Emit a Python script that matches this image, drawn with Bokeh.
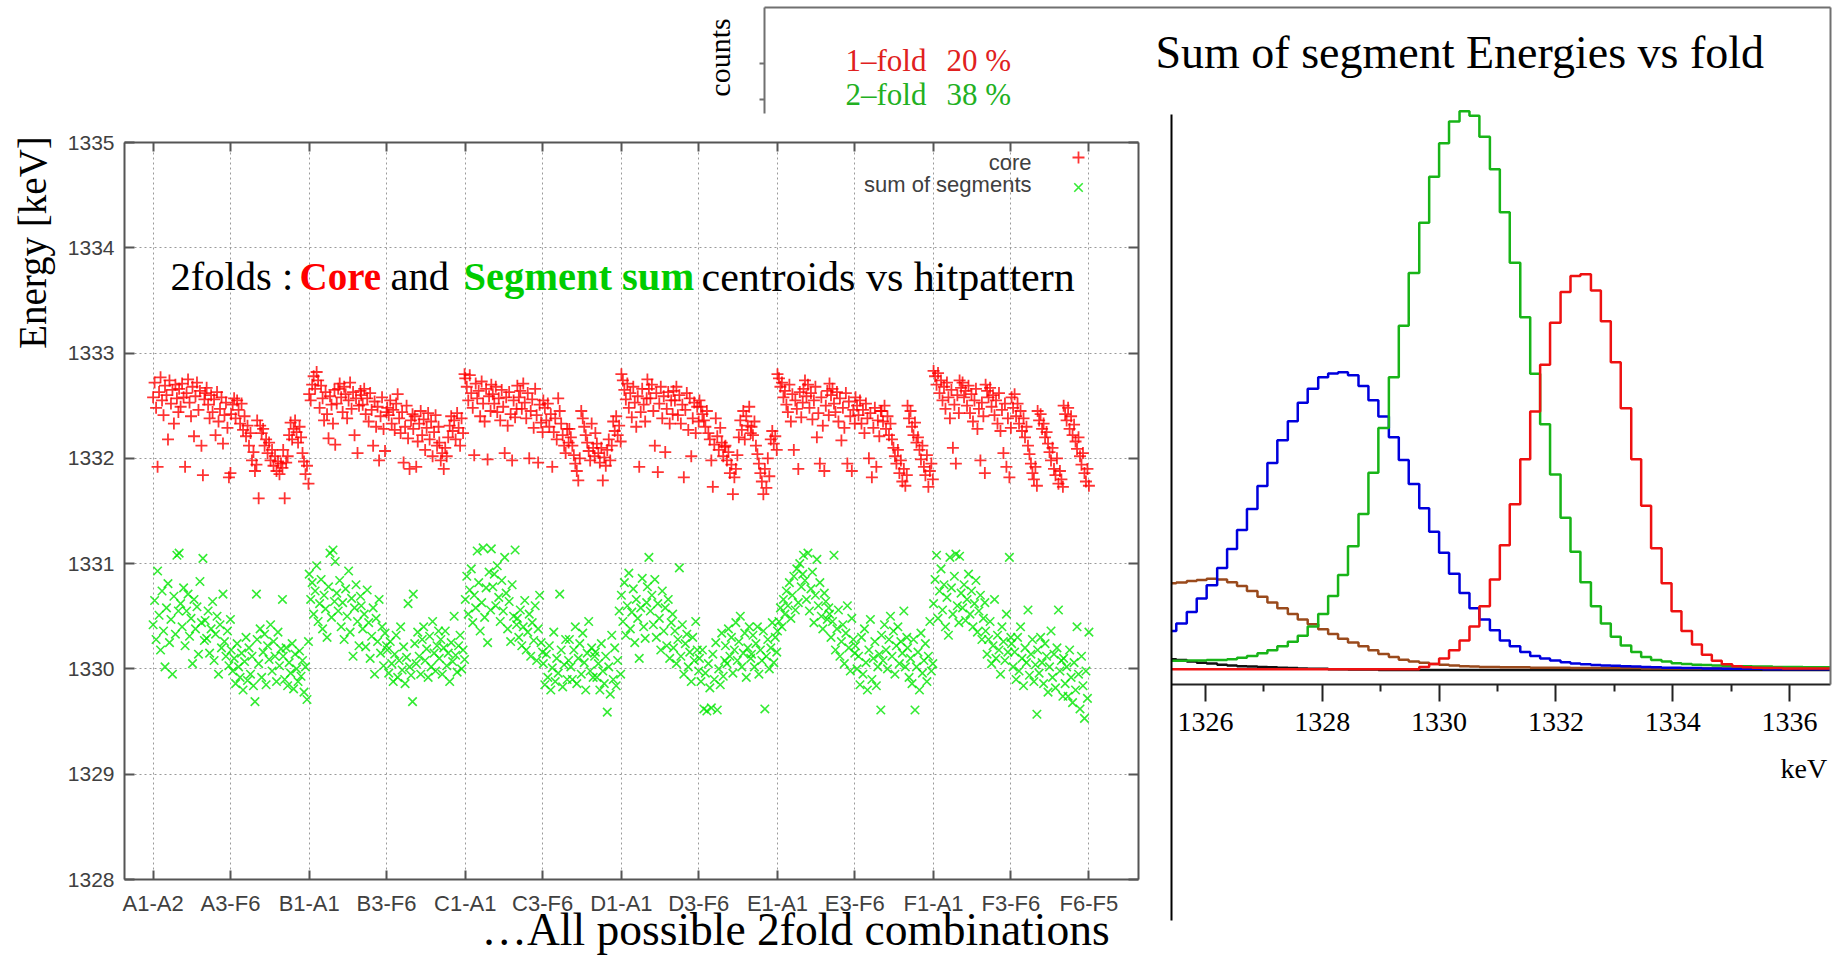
import math
from bokeh.plotting import figure
from bokeh.models import (Range1d, LinearAxis, FixedTicker, Grid, Label, Legend,
                          LegendItem, ColumnDataSource)
from bokeh.embed import file_html
from bokeh.resources import INLINE
from bokeh.core.properties import value

# ------------------------------------------------------------------ data
# left panel: 2-fold centroids (keV) vs hit pattern (every 2nd partner of each segment)
x_tick_pos = [0, 104, 210, 314, 420, 524, 630, 734, 840, 944, 1050, 1154, 1259]
x_tick_labels = ["A1-A2", "A3-F6", "B1-A1", "B3-F6", "C1-A1", "C3-F6", "D1-A1",
                 "D3-F6", "E1-A1", "E3-F6", "F1-A1", "F3-F6", "F6-F5"]
y_ticks = [1328, 1329, 1330, 1331, 1332, 1333, 1334, 1335]

core_A = [1332.58, 1332.72, 1332.48, 1331.92, 1332.63, 1332.77, 1332.55, 1332.41, 1332.69, 1332.60, 1332.18, 1332.74, 1332.52, 1332.65, 1332.33, 1332.70, 1332.57, 1332.44,
          1332.66, 1332.49, 1332.71, 1332.58, 1331.92, 1332.62, 1332.75, 1332.53, 1332.40, 1332.68, 1332.21, 1332.59, 1332.72, 1332.46, 1332.64, 1332.12, 1331.84, 1332.56,
          1332.62, 1332.67, 1332.51, 1332.38, 1332.60, 1332.44, 1332.56, 1332.22, 1332.63, 1332.35, 1332.47, 1332.58, 1332.14, 1332.41, 1332.53, 1332.29, 1331.82, 1331.86,
          1332.42, 1332.51, 1332.57, 1332.38, 1332.55, 1332.46, 1332.33, 1332.52, 1332.27, 1332.40, 1332.21, 1332.31, 1332.12, 1332.24, 1331.98, 1332.06, 1331.88, 1331.94,
          1332.36, 1331.62, 1332.31, 1332.24, 1332.28, 1332.12, 1332.18, 1332.05, 1332.15, 1331.98, 1332.08, 1331.93, 1332.02, 1331.88, 1331.97, 1331.85, 1331.95, 1331.91,
          1332.08, 1331.62, 1331.96, 1332.02, 1332.22, 1332.34, 1332.18, 1332.28, 1332.36, 1332.25, 1332.15, 1332.30, 1332.20, 1332.05, 1331.97, 1331.85, 1331.93, 1331.76]
core_B = [1332.61, 1332.55, 1332.70, 1332.78, 1332.66, 1332.82, 1332.74, 1332.48, 1332.69, 1332.57, 1332.36, 1332.63, 1332.42, 1332.19, 1332.59, 1332.51, 1332.33, 1332.65,
          1332.13, 1332.52, 1332.66, 1332.71, 1332.58, 1332.44, 1332.68, 1332.61, 1332.38, 1332.55, 1332.72, 1332.47, 1332.63, 1332.22, 1332.57, 1332.05, 1332.50, 1332.64,
          1332.60, 1332.51, 1332.66, 1332.42, 1332.57, 1332.35, 1332.62, 1332.46, 1332.12, 1332.54, 1332.30, 1332.49, 1331.98, 1332.40, 1332.58, 1332.28, 1332.07, 1332.44,
          1332.48, 1332.41, 1332.55, 1332.33, 1332.46, 1332.27, 1332.52, 1332.61, 1332.38, 1332.24, 1332.44, 1331.96, 1332.30, 1332.50, 1332.19, 1331.90, 1332.36, 1332.42,
          1332.28, 1332.40, 1331.92, 1332.16, 1332.33, 1332.45, 1332.22, 1332.37, 1332.08, 1332.29, 1332.43, 1332.18, 1332.35, 1332.02, 1332.25, 1332.41, 1332.12, 1332.30,
          1332.15, 1331.98, 1332.05, 1331.90, 1332.10, 1332.02, 1332.20, 1332.31, 1332.40, 1332.26, 1332.36, 1332.18, 1332.43, 1332.29, 1332.12, 1332.38, 1332.24, 1332.80]
core_C = [1332.76, 1332.68, 1332.55, 1332.79, 1332.62, 1332.48, 1332.03, 1332.71, 1332.57, 1332.64, 1332.40, 1332.73, 1332.52, 1332.35, 1332.66, 1331.99, 1332.59, 1332.45,
          1332.70, 1332.61, 1332.52, 1332.68, 1332.44, 1332.57, 1332.36, 1332.65, 1332.49, 1332.05, 1332.58, 1332.31, 1332.63, 1332.42, 1331.98, 1332.55, 1332.39, 1332.47,
          1332.69, 1332.58, 1332.64, 1332.47, 1332.71, 1332.53, 1332.38, 1332.62, 1332.00, 1332.45, 1332.56, 1332.29, 1332.66, 1332.41, 1331.96, 1332.51, 1332.34, 1332.25,
          1332.55, 1332.48, 1332.36, 1332.52, 1332.30, 1332.42, 1331.92, 1332.25, 1332.38, 1332.18, 1332.57, 1332.45, 1332.33, 1332.22, 1332.12, 1332.05, 1332.28, 1332.15,
          1332.28, 1332.20, 1332.12, 1332.03, 1331.95, 1331.88, 1331.79, 1332.00, 1332.45, 1332.38, 1332.30, 1332.22, 1332.15, 1332.07, 1331.98, 1332.33, 1332.10, 1332.02,
          1332.24, 1332.14, 1332.05, 1331.96, 1332.10, 1331.79, 1332.01, 1331.93, 1332.08, 1332.18, 1331.98, 1332.12, 1332.35, 1332.26, 1332.40, 1332.22, 1332.31, 1332.16]
core_D = [1332.80, 1332.74, 1332.65, 1332.56, 1332.71, 1332.48, 1332.62, 1332.39, 1332.68, 1332.53, 1332.30, 1332.59, 1331.92, 1332.44, 1332.66, 1332.51, 1332.35, 1332.57,
          1332.75, 1332.66, 1332.57, 1332.70, 1332.45, 1332.12, 1332.62, 1331.87, 1332.52, 1332.68, 1332.38, 1332.59, 1332.06, 1332.47, 1332.63, 1332.33, 1332.55, 1332.42,
          1332.64, 1332.55, 1332.68, 1332.41, 1332.60, 1332.33, 1332.51, 1331.82, 1332.46, 1332.62, 1332.27, 1332.57, 1332.02, 1332.38, 1332.53, 1332.24, 1332.49, 1332.35,
          1332.55, 1332.49, 1332.42, 1332.36, 1332.30, 1332.45, 1332.24, 1332.18, 1331.98, 1331.73, 1332.13, 1332.38, 1332.21, 1332.08, 1332.29, 1332.15, 1332.02, 1332.11,
          1332.12, 1331.98, 1332.06, 1331.86, 1331.94, 1331.66, 1331.82, 1331.90, 1332.03, 1332.20, 1332.36, 1332.27, 1332.45, 1332.18, 1332.40, 1332.31, 1332.49, 1332.24,
          1332.30, 1332.22, 1332.35, 1332.12, 1332.04, 1331.95, 1331.86, 1331.78, 1331.66, 1331.90, 1331.72, 1332.00, 1331.83, 1332.18, 1332.26, 1332.14, 1332.21, 1332.08]
core_E = [1332.80, 1332.76, 1332.68, 1332.72, 1332.58, 1332.64, 1332.51, 1332.44, 1332.70, 1332.35, 1332.61, 1332.08, 1332.55, 1332.47, 1331.90, 1332.63, 1332.39, 1332.53,
          1332.66, 1332.74, 1332.59, 1332.70, 1332.48, 1332.62, 1332.37, 1332.55, 1332.68, 1332.20, 1332.43, 1331.95, 1332.58, 1332.31, 1331.88, 1332.50, 1332.64, 1332.41,
          1332.71, 1332.60, 1332.66, 1332.52, 1332.44, 1332.63, 1332.35, 1332.57, 1332.17, 1332.48, 1332.29, 1332.62, 1331.95, 1332.54, 1332.40, 1331.88, 1332.46, 1332.33,
          1332.58, 1332.50, 1332.41, 1332.55, 1332.33, 1332.46, 1332.24, 1332.52, 1332.38, 1332.00, 1332.43, 1331.82, 1332.29, 1332.48, 1331.92, 1332.36, 1332.21, 1332.45,
          1332.45, 1332.35, 1332.50, 1332.28, 1332.40, 1332.22, 1332.33, 1332.18, 1332.10, 1332.02, 1331.95, 1332.08, 1331.86, 1331.98, 1331.78, 1331.90, 1331.74, 1331.84,
          1332.50, 1332.38, 1332.45, 1332.30, 1332.22, 1332.34, 1332.15, 1332.20, 1332.08, 1331.99, 1332.12, 1331.92, 1331.84, 1332.03, 1331.73, 1331.88, 1331.95, 1331.80]
core_F = [1332.83, 1332.78, 1332.70, 1332.81, 1332.62, 1332.74, 1332.55, 1332.68, 1332.47, 1332.72, 1332.58, 1332.38, 1332.65, 1332.10, 1332.51, 1331.95, 1332.60, 1332.43,
          1332.74, 1332.67, 1332.72, 1332.58, 1332.64, 1332.50, 1332.69, 1332.43, 1332.61, 1332.35, 1332.55, 1332.66, 1332.28, 1332.47, 1331.98, 1332.53, 1332.40, 1331.86,
          1332.70, 1332.64, 1332.58, 1332.67, 1332.49, 1332.60, 1332.41, 1332.55, 1332.33, 1332.62, 1332.26, 1332.46, 1332.05, 1332.52, 1331.92, 1332.38, 1331.82, 1332.29,
          1332.58, 1332.48, 1332.61, 1332.40, 1332.52, 1332.33, 1332.45, 1332.26, 1332.38, 1332.20, 1332.30, 1332.12, 1332.04, 1331.95, 1331.86, 1331.80, 1331.92, 1331.74,
          1332.45, 1332.36, 1332.42, 1332.28, 1332.33, 1332.20, 1332.25, 1332.14, 1332.06, 1331.98, 1332.10, 1331.90, 1331.84, 1332.00, 1331.76, 1331.88, 1331.80, 1331.73,
          1332.50, 1332.42, 1332.36, 1332.48, 1332.28, 1332.40, 1332.22, 1332.32, 1332.16, 1332.09, 1332.20, 1332.02, 1331.94, 1332.05, 1331.86, 1331.78, 1331.90, 1331.74]

sum_A = [1330.42, 1330.65, 1330.28, 1330.93, 1330.51, 1330.18, 1330.74, 1330.36, 1330.02, 1330.58, 1330.81, 1330.25, 1330.47, 1329.95, 1330.69, 1330.33, 1331.08, 1330.55,
         1331.10, 1330.62, 1330.40, 1330.77, 1330.22, 1330.55, 1330.71, 1330.31, 1330.48, 1330.05, 1330.66, 1330.38, 1330.59, 1330.14, 1330.83, 1330.44, 1331.05, 1330.27,
         1330.46, 1330.29, 1330.55, 1330.15, 1330.38, 1330.64, 1330.08, 1330.33, 1330.50, 1329.95, 1330.42, 1330.20, 1330.71, 1330.26, 1330.12, 1330.36, 1330.03, 1330.47,
         1330.18, 1329.98, 1330.10, 1329.86, 1330.24, 1330.02, 1329.92, 1330.15, 1329.80, 1330.07, 1330.30, 1329.89, 1330.20, 1329.95, 1330.12, 1329.84, 1329.69, 1330.71,
         1330.28, 1330.05, 1330.38, 1329.92, 1330.16, 1330.33, 1329.85, 1330.22, 1330.09, 1330.42, 1329.98, 1330.26, 1330.12, 1329.88, 1330.35, 1330.03, 1330.19, 1330.66,
         1330.12, 1329.90, 1330.20, 1329.84, 1330.06, 1329.96, 1330.24, 1329.81, 1330.14, 1330.00, 1329.88, 1330.17, 1329.93, 1330.08, 1329.78, 1330.02, 1329.71, 1330.26]
sum_B = [1330.90, 1330.66, 1330.82, 1330.52, 1330.74, 1330.98, 1330.45, 1330.62, 1330.85, 1330.38, 1330.70, 1330.57, 1330.30, 1330.78, 1331.10, 1330.49, 1331.13, 1330.64,
         1331.02, 1330.72, 1330.55, 1330.84, 1330.40, 1330.63, 1330.28, 1330.76, 1330.50, 1330.93, 1330.35, 1330.67, 1330.12, 1330.58, 1330.80, 1330.45, 1330.22, 1330.69,
         1330.60, 1330.38, 1330.52, 1330.21, 1330.75, 1330.44, 1330.10, 1330.31, 1330.58, 1329.95, 1330.48, 1330.26, 1330.66, 1330.15, 1330.40, 1330.03, 1330.34, 1330.22,
         1330.18, 1329.96, 1330.26, 1330.05, 1329.88, 1330.14, 1330.32, 1329.92, 1330.08, 1330.40, 1329.99, 1330.21, 1329.86, 1330.11, 1330.62, 1330.02, 1329.94, 1329.69,
         1330.71, 1330.24, 1330.05, 1330.35, 1330.12, 1329.95, 1330.28, 1330.40, 1330.08, 1330.19, 1329.92, 1330.31, 1330.02, 1330.45, 1330.15, 1329.98, 1330.22, 1330.36,
         1330.10, 1330.28, 1329.95, 1330.20, 1330.36, 1330.03, 1330.15, 1329.88, 1330.25, 1330.07, 1330.50, 1330.13, 1329.97, 1330.22, 1330.32, 1330.00, 1330.18, 1330.09]
sum_C = [1330.66, 1330.88, 1330.52, 1330.75, 1330.95, 1330.44, 1330.70, 1330.58, 1331.12, 1330.82, 1330.36, 1330.63, 1331.15, 1330.49, 1330.77, 1330.25, 1330.92, 1330.56,
         1331.14, 1330.78, 1330.90, 1330.60, 1330.98, 1330.68, 1330.45, 1330.84, 1330.55, 1331.06, 1330.72, 1330.38, 1330.64, 1330.26, 1330.80, 1330.50, 1331.13, 1330.42,
         1330.48, 1330.30, 1330.56, 1330.22, 1330.40, 1330.65, 1330.18, 1330.35, 1330.52, 1330.12, 1330.44, 1330.27, 1330.60, 1330.08, 1330.38, 1330.70, 1330.25, 1330.16,
         1330.05, 1329.85, 1330.14, 1329.92, 1330.22, 1329.80, 1330.01, 1330.35, 1329.88, 1330.10, 1329.96, 1330.71, 1330.18, 1329.83, 1330.04, 1330.28, 1329.90, 1330.08,
         1330.28, 1330.02, 1329.90, 1330.18, 1330.40, 1329.86, 1330.10, 1330.24, 1329.95, 1330.34, 1330.06, 1329.80, 1330.15, 1330.45, 1329.98, 1330.20, 1329.92, 1330.12,
         1330.16, 1329.92, 1330.05, 1329.80, 1330.24, 1329.98, 1329.86, 1330.12, 1329.59, 1330.02, 1329.76, 1330.32, 1329.90, 1330.20, 1329.84, 1330.08, 1330.55, 1329.95]
sum_D = [1330.70, 1330.45, 1330.82, 1330.32, 1330.60, 1330.91, 1330.38, 1330.54, 1330.76, 1330.25, 1330.66, 1330.48, 1330.10, 1330.58, 1330.86, 1330.40, 1330.29, 1330.63,
         1330.78, 1331.06, 1330.55, 1330.70, 1330.42, 1330.85, 1330.30, 1330.62, 1330.48, 1330.18, 1330.74, 1330.36, 1330.58, 1330.22, 1330.66, 1330.10, 1330.44, 1330.52,
         1330.20, 1330.36, 1330.05, 1330.28, 1330.96, 1330.12, 1330.42, 1329.95, 1330.24, 1330.33, 1330.02, 1330.16, 1329.88, 1330.30, 1330.08, 1330.45, 1330.18, 1329.98,
         1330.10, 1329.88, 1330.18, 1329.62, 1329.96, 1329.60, 1330.05, 1329.82, 1329.63, 1330.14, 1329.90, 1330.25, 1329.61, 1330.00, 1329.85, 1330.34, 1329.93, 1330.08,
         1330.22, 1330.05, 1330.38, 1330.12, 1330.30, 1329.96, 1330.18, 1330.44, 1330.08, 1330.26, 1330.50, 1330.02, 1330.15, 1330.34, 1329.92, 1330.20, 1330.40, 1330.10,
         1330.14, 1330.32, 1330.02, 1330.24, 1330.40, 1329.95, 1330.18, 1330.08, 1330.36, 1329.62, 1330.12, 1330.28, 1330.00, 1330.20, 1330.44, 1330.06, 1330.30, 1330.16]
sum_E = [1330.36, 1330.45, 1330.58, 1330.40, 1330.66, 1330.52, 1330.74, 1330.60, 1330.82, 1330.48, 1330.70, 1330.88, 1330.56, 1330.95, 1330.63, 1331.00, 1330.78, 1330.90,
         1331.08, 1330.84, 1330.66, 1331.10, 1330.55, 1330.76, 1330.92, 1330.44, 1330.70, 1331.04, 1330.60, 1330.82, 1330.50, 1330.38, 1330.72, 1330.64, 1330.47, 1330.58,
         1330.52, 1330.30, 1330.45, 1331.08, 1330.18, 1330.38, 1330.56, 1330.12, 1330.26, 1330.42, 1330.05, 1330.34, 1330.60, 1330.20, 1329.98, 1330.48, 1330.28, 1330.15,
         1330.22, 1330.00, 1330.12, 1329.85, 1330.30, 1329.95, 1330.38, 1330.06, 1329.80, 1330.18, 1330.47, 1329.90, 1330.10, 1330.26, 1329.84, 1330.02, 1330.14, 1329.61,
         1330.32, 1330.08, 1330.42, 1330.18, 1330.00, 1330.28, 1330.50, 1330.12, 1330.36, 1329.95, 1330.22, 1330.40, 1330.05, 1330.26, 1330.15, 1330.55, 1330.02, 1330.30,
         1330.20, 1329.92, 1330.10, 1329.86, 1330.28, 1329.61, 1330.02, 1330.16, 1329.80, 1330.34, 1329.96, 1330.08, 1330.24, 1329.88, 1330.12, 1330.45, 1329.98, 1330.05]
sum_F = [1330.62, 1330.85, 1331.08, 1330.48, 1330.74, 1330.95, 1330.56, 1330.80, 1330.40, 1330.68, 1330.32, 1331.06, 1330.77, 1330.52, 1330.88, 1331.09, 1330.60, 1330.44,
         1331.07, 1330.72, 1330.58, 1330.80, 1330.46, 1330.66, 1330.90, 1330.52, 1330.74, 1330.40, 1330.62, 1330.84, 1330.35, 1330.55, 1330.70, 1330.28, 1330.48, 1330.63,
         1330.36, 1330.14, 1330.28, 1330.45, 1330.05, 1330.22, 1330.66, 1330.10, 1330.32, 1330.18, 1329.95, 1330.40, 1330.26, 1330.08, 1330.52, 1330.16, 1331.06, 1330.30,
         1330.24, 1330.02, 1330.16, 1329.90, 1330.30, 1329.98, 1330.40, 1330.10, 1329.84, 1330.20, 1330.06, 1330.56, 1329.94, 1330.14, 1330.28, 1329.88, 1330.04, 1329.57,
         1330.18, 1329.96, 1330.30, 1330.06, 1329.86, 1330.24, 1330.12, 1329.78, 1330.02, 1330.36, 1329.92, 1330.14, 1329.82, 1330.20, 1330.56, 1329.98, 1330.08, 1329.74,
         1330.10, 1329.86, 1330.02, 1329.74, 1330.18, 1329.92, 1329.68, 1330.06, 1329.80, 1330.40, 1329.95, 1329.62, 1330.12, 1329.84, 1329.53, 1329.98, 1329.72, 1330.35]

# right panel: sum of segment energies, one histogram per fold (bin edges in keV, counts a.u.)
hist_edges = [1325.42, 1325.50, 1325.68, 1325.85, 1326.02, 1326.20, 1326.37, 1326.54, 1326.71, 1326.89,
              1327.06, 1327.23, 1327.41, 1327.58, 1327.75, 1327.93, 1328.10, 1328.27, 1328.44, 1328.62,
              1328.79, 1328.96, 1329.14, 1329.31, 1329.48, 1329.66, 1329.83, 1330.00, 1330.17, 1330.35,
              1330.52, 1330.69, 1330.87, 1331.04, 1331.21, 1331.39, 1331.56, 1331.73, 1331.90, 1332.08,
              1332.25, 1332.42, 1332.60, 1332.77, 1332.94, 1333.11, 1333.29, 1333.46, 1333.63, 1333.81,
              1333.98, 1334.15, 1334.33, 1334.50, 1334.67, 1334.84, 1335.02, 1335.19, 1335.36, 1335.54,
              1335.71, 1335.88, 1336.06, 1336.23, 1336.40, 1336.57, 1336.70]
fold1_red = [2, 2, 2, 2, 2, 2, 2, 2, 2, 2, 2, 2, 2, 2, 2, 2, 2, 2, 2, 2, 2, 2, 2, 2, 2,
             8, 16, 30, 52, 77, 114, 167, 237, 327, 434, 552, 677, 800, 910, 990, 1032, 1037,
             994, 914, 806, 686, 552, 430, 319, 227, 154, 102, 67, 40, 24, 15, 10, 7, 6, 5, 5,
             4, 4, 4, 4, 4]
fold2_green = [24, 24, 25, 25, 26, 26, 28, 32, 37, 44, 52, 62, 74, 90, 114, 147, 194, 249, 324,
               409, 517, 634, 767, 902, 1040, 1172, 1292, 1380, 1437, 1464, 1452, 1397, 1312,
               1199, 1067, 924, 776, 644, 512, 399, 310, 230, 167, 122, 87, 64, 47, 34, 26, 22,
               18, 16, 14, 13, 12, 11, 10, 10, 9, 9, 8, 8, 8, 7, 7, 7]
fold3_blue = [102, 122, 152, 187, 222, 267, 317, 367, 422, 482, 542, 602, 652, 700, 737, 767,
              777, 780, 772, 744, 707, 664, 610, 550, 487, 424, 362, 307, 252, 202, 162, 132,
              104, 77, 62, 47, 37, 30, 25, 20, 17, 15, 13, 12, 11, 10, 9, 8, 7, 6, 6, 5, 5, 4,
              4, 3, 3, 3, 3, 2, 2, 2, 2, 2, 2, 2]
fold4_brown = [227, 229, 233, 236, 239, 237, 230, 220, 207, 192, 177, 162, 147, 132, 120, 107,
               94, 82, 72, 62, 52, 42, 34, 27, 22, 19, 16, 14, 12, 10, 9, 8, 8, 7, 7, 7, 6, 6,
               6, 6, 5, 5, 5, 5, 5, 5, 5, 4, 4, 4, 4, 4, 4, 4, 4, 4, 4, 4, 4, 3, 3, 3, 3, 3, 3, 3]
fold5_black = [28, 26, 22, 19, 17, 14, 12, 10, 9, 8, 7, 6, 5, 4, 3, 3, 2, 2, 1, 1, 1, 0, 0,
               0, 0, 0, 0, 0, 0, 0, 0, 0, 0, 0, 0, 0, 0, 0, 0, 0, 0, 0, 0, 0, 0, 0, 0, 0, 0, 0,
               0, 0, 0, 0, 0, 0, 0, 0, 0, 0, 0, 0, 0, 0, 0, 0]
hist_ticks_major = [1326, 1328, 1330, 1332, 1334, 1336]
hist_ticks_minor = [1327, 1329, 1331, 1333, 1335]

SERIF = "Liberation Serif"
SANS = "Liberation Sans"
W, H = 1841, 957

# page layout (pixel positions of the two plot areas on the page)
SC_X, SC_Y = (-38.5, 1325.7), (1328.0, 1335.0)          # scatter data extent
SC_PX, SC_PY = (124, 1138), (879, 142)                   # ... and its page position
HI_X = (1325.418, 1336.702)                              # histogram keV extent
HI_PX = (1171, 1830)
HI_PY0, HI_PPC = 669.5, 0.3817                           # page y of zero counts, px per count


def lin_range(pa, va, pb, vb, p_lo, p_hi):
    k = (vb - va) / (pb - pa)
    return Range1d(start=va + (p_lo - pa) * k, end=va + (p_hi - pa) * k)


def hy(page_y):
    return (HI_PY0 - page_y) / HI_PPC


p = figure(width=W, height=H, x_range=Range1d(0, W), y_range=Range1d(H, 0),
           x_axis_type=None, y_axis_type=None, output_backend="svg", toolbar_location=None,
           min_border=0, min_border_left=0, min_border_right=0, min_border_top=0,
           min_border_bottom=0)
p.outline_line_color = None
p.extra_x_ranges = {"sx": lin_range(SC_PX[0], SC_X[0], SC_PX[1], SC_X[1], 0, W),
                    "hx": lin_range(HI_PX[0], HI_X[0], HI_PX[1], HI_X[1], 0, W)}
p.extra_y_ranges = {"sy": lin_range(SC_PY[0], SC_Y[0], SC_PY[1], SC_Y[1], H, 0),
                    "hy": Range1d(start=hy(H), end=hy(0))}


def add_axis(side, xr, yr, loc, bounds, ticks=(), minor=(), labels=None, color="#555555",
             width=2, tin=0, tout=0, mtout=0, font=SANS, size="22px", standoff=10,
             lcolor="#404040"):
    ax = LinearAxis(x_range_name=xr, y_range_name=yr, fixed_location=loc, bounds=bounds,
                    ticker=FixedTicker(ticks=list(ticks), minor_ticks=list(minor)),
                    axis_line_color=color, axis_line_width=width,
                    major_tick_line_color=color if ticks else None, major_tick_line_width=width,
                    major_tick_in=tin, major_tick_out=tout,
                    minor_tick_line_color=color if minor else None, minor_tick_line_width=width,
                    minor_tick_in=0, minor_tick_out=mtout)
    if labels:
        ax.major_label_overrides = labels
        ax.major_label_text_font = font
        ax.major_label_text_font_size = size
        ax.major_label_text_color = lcolor
        ax.major_label_standoff = standoff
    else:
        ax.major_label_text_color = None
    p.add_layout(ax, side)


def add_label(x, y, text, size, color="black", font=SERIF, style="normal",
              align="left", baseline="middle", angle=0.0):
    p.add_layout(Label(x=x, y=y, text=text, text_font=font, text_font_size=f"{size}px",
                       text_color=color, text_font_style=style, text_align=align,
                       text_baseline=baseline, angle=angle))


# ------------------------------------------------------------------ slide box (header)
add_axis("above", "default", "default", 7, (764, 1830), color="#707070")
add_axis("left", "default", "default", 764, (7, 113), ticks=[63, 99], tout=5, color="#707070")
add_label(719, 57, "counts", 30, align="center", angle=math.pi / 2)
add_label(845, 60, "1–fold", 31, color="#e02020")
add_label(946, 60, "20 %", 31, color="#e02020")
add_label(845, 94, "2–fold", 31, color="#22b022")
add_label(946, 94, "38 %", 31, color="#22b022")

# ------------------------------------------------------------------ left: centroids vs hit pattern
p.add_layout(Grid(dimension=0, x_range_name="sx", y_range_name="sy",
                  ticker=FixedTicker(ticks=x_tick_pos), bounds=SC_X, cross_bounds=SC_Y,
                  grid_line_color="#9a9a9a", grid_line_dash="2 3"))
p.add_layout(Grid(dimension=1, x_range_name="sx", y_range_name="sy",
                  ticker=FixedTicker(ticks=y_ticks), bounds=SC_Y, cross_bounds=SC_X,
                  grid_line_color="#9a9a9a", grid_line_dash="2 3"))

add_axis("below", "sx", "sy", SC_Y[0], SC_X, ticks=x_tick_pos, tin=9,
         labels={t: s for t, s in zip(x_tick_pos, x_tick_labels)}, size="22px", standoff=11)
add_axis("above", "sx", "sy", SC_Y[1], SC_X, ticks=x_tick_pos, tin=9)
add_axis("left", "sx", "sy", SC_X[0], SC_Y, ticks=y_ticks, tin=10,
         labels={t: str(t) for t in y_ticks}, size="21px", standoff=10)
add_axis("right", "sx", "sy", SC_X[1], SC_Y, ticks=y_ticks, tin=10)

core_all, sum_all, idx_all = [], [], []
for s, (c_arr, s_arr) in enumerate(zip([core_A, core_B, core_C, core_D, core_E, core_F],
                                       [sum_A, sum_B, sum_C, sum_D, sum_E, sum_F])):
    for i in range(len(c_arr)):
        idx_all.append(210 * s + 35 * (i // 18) + 2 * (i % 18))
    core_all += c_arr
    sum_all += s_arr

src = ColumnDataSource(dict(combo=idx_all, core=core_all, segsum=sum_all))
r_core = p.scatter("combo", "core", source=src, marker="cross", size=12,
                   line_color="#ff0000", line_width=1.8, line_alpha=0.8,
                   x_range_name="sx", y_range_name="sy")
r_sum = p.scatter("combo", "segsum", source=src, marker="x", size=12,
                  line_color="#00e600", line_width=1.6, line_alpha=0.8,
                  x_range_name="sx", y_range_name="sy")

leg = Legend(items=[LegendItem(label=value(""), renderers=[r_core]),
                    LegendItem(label=value(""), renderers=[r_sum])],
             location=(1063, H - 202), orientation="vertical", glyph_width=30, glyph_height=30,
             label_width=0, label_height=24, label_standoff=0, padding=0, margin=0, spacing=-6,
             label_text_font_size="10px", border_line_color=None, background_fill_alpha=0)
p.add_layout(leg)
add_label(1031, 162, "core", 22, color="#404040", font=SANS, align="right")
add_label(1031, 184, "sum of segments", 22, color="#404040", font=SANS, align="right")

add_label(32, 242, "Energy [keV]", 39, align="center", angle=math.pi / 2)
add_label(170, 276, "2folds :", 40.5)
add_label(299, 276, "Core", 39, color="#ff0000", style="bold")
add_label(390, 276, "and", 40.5)
add_label(463, 276, "Segment sum", 40.5, color="#00cc00", style="bold")
add_label(701, 276, "centroids vs hitpattern", 42)
add_label(481, 929, "…All possible 2fold combinations", 45.5)

# ------------------------------------------------------------------ right: sum of segment energies
for counts, col in ((fold5_black, "#111111"), (fold4_brown, "#9a4a1c"), (fold3_blue, "#0000dd"),
                    (fold2_green, "#18b418"), (fold1_red, "#ee1111")):
    p.step(hist_edges, counts + [counts[-1]], mode="after", line_color=col, line_width=2.5,
           x_range_name="hx", y_range_name="hy")

add_axis("below", "hx", "hy", hy(684), HI_X, ticks=hist_ticks_major, minor=hist_ticks_minor,
         tout=17, mtout=7, color="#222222",
         labels={t: str(t) for t in hist_ticks_major}, font=SERIF, size="28px",
         lcolor="black", standoff=11)
add_axis("left", "hx", "hy", HI_X[0], (hy(920), hy(114)), color="black")
add_axis("right", "hx", "hy", HI_X[1], (hy(684), hy(7)), color="#707070")

add_label(1155, 52, "Sum of segment Energies vs fold", 46)
add_label(1780, 768, "keV", 28)

with open("out.html", "w", encoding="utf-8") as f:
    f.write(file_html(p, INLINE))
